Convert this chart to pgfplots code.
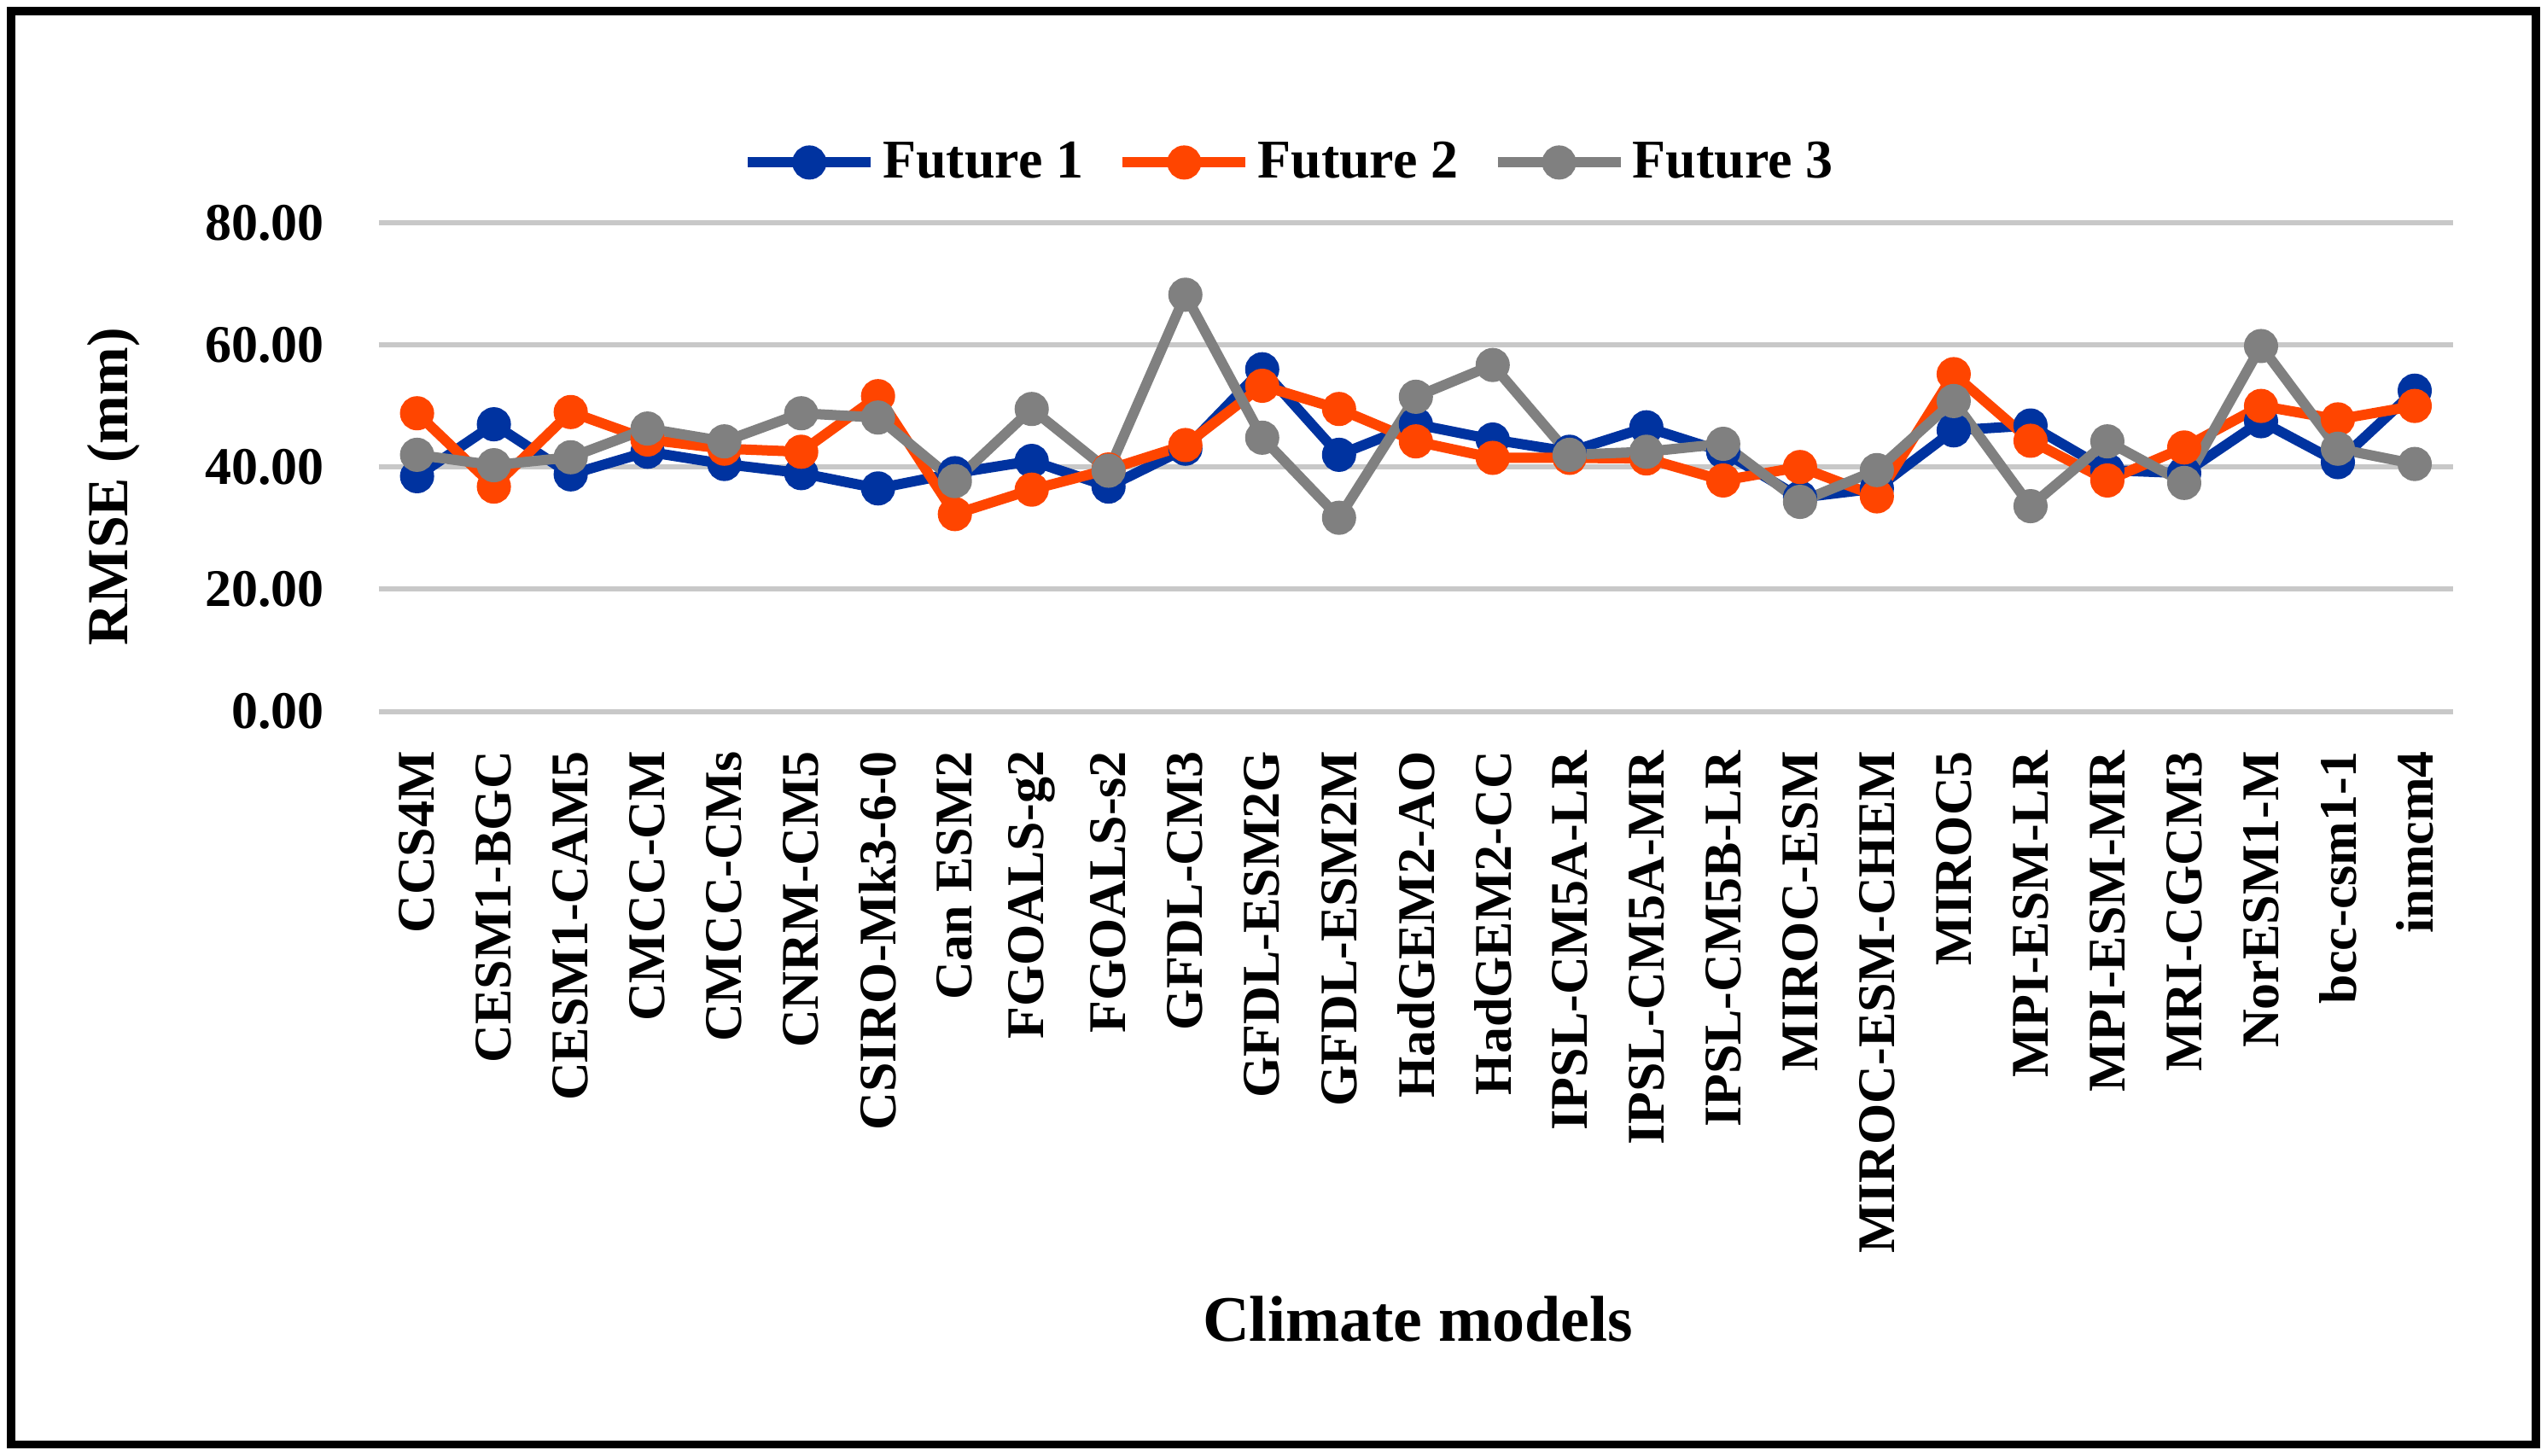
\documentclass[border=0pt]{standalone}
\usepackage{fontspec}
\setmainfont{Liberation Serif}
\usepackage{pgfplots}
\pgfplotsset{compat=1.18}
\definecolor{fblue}{RGB}{0,51,160}
\definecolor{forange}{RGB}{255,69,0}
\definecolor{fgray}{RGB}{128,128,128}
\definecolor{gridc}{RGB}{200,200,200}
\begin{document}
\begin{tikzpicture}
\useasboundingbox (-110.9bp,-217.9bp) rectangle (635.1bp,208.4bp);
\fill[white] (-110.9bp,-217.9bp) rectangle (635.1bp,208.4bp);
\draw[black, line width=2.4bp] (-107.7bp,-214.7bp) rectangle (631.9bp,205.2bp);
\begin{axis}[
  at={(0,0)}, anchor=south west,
  scale only axis, width=607.6bp, height=143.2bp,
  xmin=0.5, xmax=27.5, ymin=0, ymax=80,
  ytick={0,20,40,60,80},
  xtick={1,...,27},
  xticklabels={CCS4M,CESM1-BGC,CESM1-CAM5,CMCC-CM,CMCC-CMs,CNRM-CM5,CSIRO-Mk3-6-0,Can ESM2,FGOALS-g2,FGOALS-s2,GFDL-CM3,GFDL-ESM2G,GFDL-ESM2M,HadGEM2-AO,HadGEM2-CC,IPSL-CM5A-LR,IPSL-CM5A-MR,IPSL-CM5B-LR,MIROC-ESM,MIROC-ESM-CHEM,MIROC5,MPI-ESM-LR,MPI-ESM-MR,MRI-CGCM3,NorESM1-M,bcc-csm1-1,inmcm4},
  axis line style={draw=none},
  major tick length=0pt,
  ymajorgrids, grid style={gridc, line width=1.5bp},
  /pgf/number format/assume math mode=true,
  ticklabel style={font=\fontsize{15.5bp}{18bp}\selectfont\bfseries},
  yticklabel style={/pgf/number format/fixed, /pgf/number format/fixed zerofill, /pgf/number format/precision=2, anchor=east, inner sep=0pt, xshift=-15.7bp},
  xticklabel style={rotate=90, anchor=east, inner sep=0pt, xshift=-11.4bp},
  ylabel={RMSE (mm)},
  ylabel style={at={(axis description cs:-0.1277,0.46)}, anchor=center, font=\fontsize{17bp}{20bp}\selectfont\bfseries},
  xlabel={Climate models},
  xlabel style={at={(axis description cs:0.501,-1.243)}, anchor=center, font=\fontsize{19bp}{22bp}\selectfont\bfseries},
  legend style={at={(axis description cs:0.44,1.123)}, anchor=center, draw=none, fill=none,
    legend columns=-1, font=\fontsize{16bp}{19bp}\selectfont\bfseries,
    /tikz/every even column/.append style={column sep=8bp}},
  legend image code/.code={\draw[#1, mark repeat=2, mark phase=2] plot coordinates {(0bp,0bp)(18bp,0bp)(36bp,0bp)};},
  every axis plot/.append style={line width=3bp, mark=*, mark size=3.5bp, mark options={solid}},
  clip=false,
]
\addplot[fblue] coordinates {
(1,38.5)(2,47)(3,38.8)(4,42.5)(5,40.5)(6,39)(7,36.5)(8,39)(9,41)(10,36.8)
(11,43)(12,56)(13,42)(14,47)(15,44.5)(16,42.5)(17,46.5)(18,42.5)(19,35)(20,36.5)
(21,46)(22,46.8)(23,39.5)(24,39)(25,47.5)(26,40.8)(27,52.5)};
\addlegendentry{Future 1}
\addplot[forange] coordinates {
(1,48.8)(2,36.8)(3,49)(4,44.5)(5,43)(6,42.5)(7,51.6)(8,32.3)(9,36.3)(10,39.6)
(11,43.6)(12,53.3)(13,49.5)(14,44.2)(15,41.5)(16,41.5)(17,41.4)(18,37.8)(19,40)(20,35.2)
(21,55.2)(22,44.3)(23,37.8)(24,43.2)(25,50)(26,47.8)(27,50)};
\addlegendentry{Future 2}
\addplot[fgray] coordinates {
(1,42)(2,40.3)(3,41.6)(4,46.3)(5,44.2)(6,48.8)(7,48.1)(8,37.7)(9,49.5)(10,39.4)
(11,68.2)(12,44.8)(13,31.7)(14,51.5)(15,56.7)(16,42)(17,42.5)(18,43.8)(19,34.3)(20,39.5)
(21,50.8)(22,33.6)(23,44.2)(24,37.4)(25,59.8)(26,43)(27,40.5)};
\addlegendentry{Future 3}
\end{axis}
\end{tikzpicture}
\end{document}
